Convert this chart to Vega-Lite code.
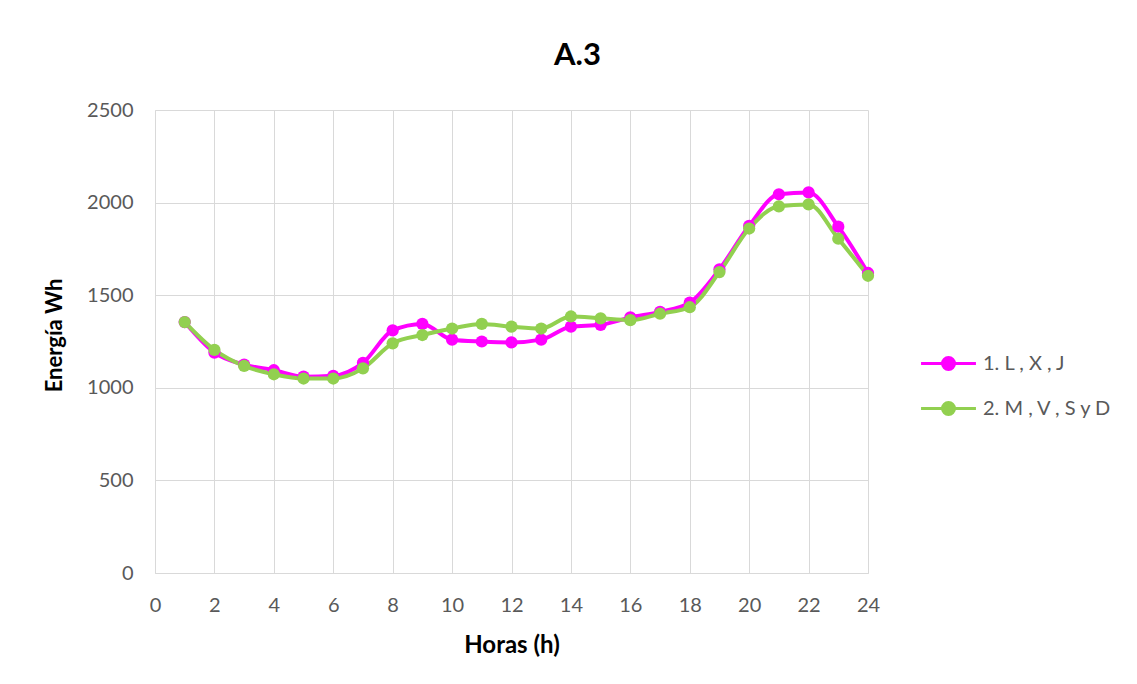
{
  "$schema": "https://vega.github.io/schema/vega-lite/v6.json",
  "width": 713,
  "height": 463,
  "autosize": {"type": "none"},
  "padding": {"left": 155, "top": 110, "right": 269, "bottom": 111},
  "background": "white",
  "config": {
    "font": "Lato",
    "view": {"stroke": null}
  },
  "title": {
    "text": "A.3",
    "fontSize": 31,
    "fontWeight": "bold",
    "color": "#000000",
    "frame": "group",
    "anchor": "middle",
    "dx": 66,
    "offset": 28
  },
  "data": {
    "values": [
      {"hora": 1, "serie": "1. L , X  , J", "energia": 1355},
      {"hora": 2, "serie": "1. L , X  , J", "energia": 1190},
      {"hora": 3, "serie": "1. L , X  , J", "energia": 1125},
      {"hora": 4, "serie": "1. L , X  , J", "energia": 1095},
      {"hora": 5, "serie": "1. L , X  , J", "energia": 1060},
      {"hora": 6, "serie": "1. L , X  , J", "energia": 1065},
      {"hora": 7, "serie": "1. L , X  , J", "energia": 1135},
      {"hora": 8, "serie": "1. L , X  , J", "energia": 1310},
      {"hora": 9, "serie": "1. L , X  , J", "energia": 1345},
      {"hora": 10, "serie": "1. L , X  , J", "energia": 1260},
      {"hora": 11, "serie": "1. L , X  , J", "energia": 1250},
      {"hora": 12, "serie": "1. L , X  , J", "energia": 1245},
      {"hora": 13, "serie": "1. L , X  , J", "energia": 1260},
      {"hora": 14, "serie": "1. L , X  , J", "energia": 1330},
      {"hora": 15, "serie": "1. L , X  , J", "energia": 1340},
      {"hora": 16, "serie": "1. L , X  , J", "energia": 1380},
      {"hora": 17, "serie": "1. L , X  , J", "energia": 1410},
      {"hora": 18, "serie": "1. L , X  , J", "energia": 1460},
      {"hora": 19, "serie": "1. L , X  , J", "energia": 1640},
      {"hora": 20, "serie": "1. L , X  , J", "energia": 1875},
      {"hora": 21, "serie": "1. L , X  , J", "energia": 2045},
      {"hora": 22, "serie": "1. L , X  , J", "energia": 2055},
      {"hora": 23, "serie": "1. L , X  , J", "energia": 1870},
      {"hora": 24, "serie": "1. L , X  , J", "energia": 1620},
      {"hora": 1, "serie": "2. M , V , S y D", "energia": 1355},
      {"hora": 2, "serie": "2. M , V , S y D", "energia": 1205},
      {"hora": 3, "serie": "2. M , V , S y D", "energia": 1118},
      {"hora": 4, "serie": "2. M , V , S y D", "energia": 1073},
      {"hora": 5, "serie": "2. M , V , S y D", "energia": 1050},
      {"hora": 6, "serie": "2. M , V , S y D", "energia": 1050},
      {"hora": 7, "serie": "2. M , V , S y D", "energia": 1105},
      {"hora": 8, "serie": "2. M , V , S y D", "energia": 1240},
      {"hora": 9, "serie": "2. M , V , S y D", "energia": 1285},
      {"hora": 10, "serie": "2. M , V , S y D", "energia": 1320},
      {"hora": 11, "serie": "2. M , V , S y D", "energia": 1345},
      {"hora": 12, "serie": "2. M , V , S y D", "energia": 1330},
      {"hora": 13, "serie": "2. M , V , S y D", "energia": 1320},
      {"hora": 14, "serie": "2. M , V , S y D", "energia": 1385},
      {"hora": 15, "serie": "2. M , V , S y D", "energia": 1375},
      {"hora": 16, "serie": "2. M , V , S y D", "energia": 1365},
      {"hora": 17, "serie": "2. M , V , S y D", "energia": 1400},
      {"hora": 18, "serie": "2. M , V , S y D", "energia": 1435},
      {"hora": 19, "serie": "2. M , V , S y D", "energia": 1625},
      {"hora": 20, "serie": "2. M , V , S y D", "energia": 1860},
      {"hora": 21, "serie": "2. M , V , S y D", "energia": 1980},
      {"hora": 22, "serie": "2. M , V , S y D", "energia": 1990},
      {"hora": 23, "serie": "2. M , V , S y D", "energia": 1805},
      {"hora": 24, "serie": "2. M , V , S y D", "energia": 1605}
    ]
  },
  "encoding": {
    "x": {
      "field": "hora",
      "type": "quantitative",
      "scale": {"domain": [0, 24], "nice": false, "zero": false},
      "axis": {
        "title": "Horas (h)",
        "values": [0, 2, 4, 6, 8, 10, 12, 14, 16, 18, 20, 22, 24],
        "format": "d",
        "grid": true,
        "gridColor": "#d9d9d9",
        "domainColor": "#d9d9d9",
        "ticks": false,
        "labelFlush": false,
        "labelOverlap": false,
        "labelPadding": 22,
        "labelFontSize": 20,
        "labelColor": "#595959",
        "labelBaseline": "top",
        "titleFontSize": 24,
        "titleFontWeight": "bold",
        "titleColor": "#000000",
        "titleY": 72,
        "titleBaseline": "middle"
      }
    },
    "y": {
      "field": "energia",
      "type": "quantitative",
      "scale": {"domain": [0, 2500], "nice": false},
      "axis": {
        "title": "Energía Wh",
        "values": [0, 500, 1000, 1500, 2000, 2500],
        "format": "d",
        "grid": true,
        "gridColor": "#d9d9d9",
        "domainColor": "#d9d9d9",
        "ticks": false,
        "labelFlush": false,
        "labelPadding": 22,
        "labelFontSize": 20,
        "labelColor": "#595959",
        "titleFontSize": 22,
        "titleFontWeight": "bold",
        "titleColor": "#000000",
        "titleX": -101,
        "titleY": 225,
        "titleAngle": -90,
        "titleBaseline": "middle",
        "titleAlign": "center"
      }
    },
    "color": {
      "field": "serie",
      "type": "nominal",
      "scale": {
        "domain": ["1. L , X  , J", "2. M , V , S y D"],
        "range": ["#ff00ff", "#92d050"]
      },
      "legend": {
        "title": null,
        "orient": "none",
        "legendX": 777,
        "legendY": 237,
        "padding": 0,
        "symbolType": "M-1.83,0L-0.4,0A0.4,0.4 0 1,1 0.4,0A0.4,0.4 0 1,1 -0.4,0M0.4,0L1.83,0",
        "symbolSize": 900,
        "symbolStrokeWidth": 3,
        "labelOffset": 18,
        "labelFontSize": 20,
        "labelColor": "#595959",
        "rowPadding": 16,
        "encode": {
          "symbols": {
            "update": {
              "fill": {"scale": "color", "field": "value"},
              "stroke": {"scale": "color", "field": "value"},
              "strokeWidth": {"value": 3},
              "opacity": {"value": 1}
            }
          }
        }
      }
    }
  },
  "layer": [
    {
      "mark": {"type": "line", "strokeWidth": 4, "interpolate": "monotone"}
    },
    {
      "mark": {"type": "point", "filled": true, "size": 150, "opacity": 1}
    }
  ]
}
